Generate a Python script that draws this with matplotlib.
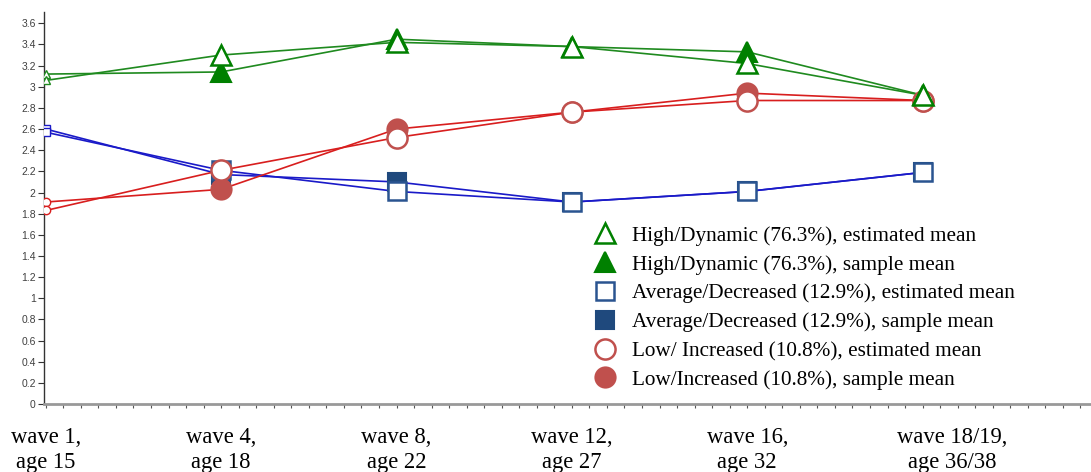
import matplotlib
matplotlib.use("Agg")
import matplotlib.pyplot as plt
from matplotlib.lines import Line2D
import numpy as np

# ---- data ----
waves = ["wave 1,\nage 15", "wave 4,\nage 18", "wave 8,\nage 22",
         "wave 12,\nage 27", "wave 16,\nage 32", "wave 18/19,\nage 36/38"]
label_offsets = [0, 0, 0, 0, 0, 0.17]

high_est = [3.06, 3.30, 3.42, 3.38, 3.22, 2.92]
high_smp = [3.12, 3.14, 3.45, 3.38, 3.33, 2.92]
avg_est = [2.57, 2.21, 2.01, 1.91, 2.01, 2.19]
avg_smp = [2.60, 2.17, 2.10, 1.91, 2.01, 2.19]
low_est = [1.83, 2.21, 2.52, 2.76, 2.87, 2.87]
low_smp = [1.91, 2.03, 2.60, 2.76, 2.94, 2.87]

legend_labels = [
    "High/Dynamic (76.3%), estimated mean",
    "High/Dynamic (76.3%), sample mean",
    "Average/Decreased (12.9%), estimated mean",
    "Average/Decreased (12.9%), sample mean",
    "Low/ Increased (10.8%), estimated mean",
    "Low/Increased (10.8%), sample mean",
]

W, H = 1091, 472
fig = plt.figure(figsize=(W / 100, H / 100), dpi=100)
ax = fig.add_axes([44 / W, 1 - 404 / H, 1 - 44 / W, (404 - 12) / H])

x = np.arange(len(waves))

GREEN_L, BLUE_L, RED_L = "#1f8a1f", "#1a1ac8", "#d81e1e"
GREEN_M, BLUE_M, BLUE_F, RED_M = "#008000", "#2a5490", "#1f497d", "#c0504d"

series = [
    # (est, smp, linecolor, marker, edge, fill for sample, ms, z)
    (avg_est, avg_smp, BLUE_L, "s", BLUE_M, BLUE_F, 13.5, 3),
    (low_est, low_smp, RED_L, "o", RED_M, RED_M, 14.5, 4),
    (high_est, high_smp, GREEN_L, "^", GREEN_M, GREEN_M, 14, 5),
]

for est, smp, lc, mk, ec, fc, ms, z in series:
    ax.plot(x, est, color=lc, lw=1.2, zorder=2)
    ax.plot(x, smp, color=lc, lw=1.2, zorder=2)
    # sample markers first (beneath), then estimated (open)
    ax.plot(x[1:], smp[1:], ls="none", marker=mk, ms=ms, mfc=fc, mec=fc,
            mew=1.5, zorder=z)
    ax.plot(x[1:], est[1:], ls="none", marker=mk, ms=ms, mfc="white", mec=ec,
            mew=1.8, zorder=z + 0.5)
    # small markers at the first wave
    ax.plot(x[:1], smp[:1], ls="none", marker=mk, ms=6, mfc="white", mec=lc,
            mew=1.0, zorder=z)
    ax.plot(x[:1], est[:1], ls="none", marker=mk, ms=6, mfc="white", mec=lc,
            mew=1.0, zorder=z)

ax.set_xlim(-0.01, 5.96)
ax.set_ylim(0, 3.707)

ax.set_yticks(np.arange(0, 3.61, 0.2))
ax.set_yticklabels([("%g" % round(v, 1)) for v in np.arange(0, 3.61, 0.2)],
                   fontsize=7.5, color="#404040", family="Liberation Sans")
ax.tick_params(axis="y", length=4, width=0.8, color="#333333", pad=2)

ax.set_xticks(np.arange(0, 5.96, 0.1))
ax.set_xticklabels([])
ax.tick_params(axis="x", length=3, width=0.8, color="#555555", direction="out")

for s in ["top", "right"]:
    ax.spines[s].set_visible(False)
ax.spines["left"].set_color("#333333")
ax.spines["left"].set_linewidth(1.0)
ax.spines["bottom"].set_color("#999999")
ax.spines["bottom"].set_linewidth(2.0)

for xi, lab, off in zip(x, waves, label_offsets):
    ax.text(xi + off, -23 / 392, lab, transform=ax.get_xaxis_transform(),
            ha="center", va="top", fontsize=16.3, family="Liberation Serif",
            linespacing=1.22)

handles = [
    Line2D([], [], ls="none", marker="^", ms=14, mfc="white", mec=GREEN_M, mew=1.8),
    Line2D([], [], ls="none", marker="^", ms=14, mfc=GREEN_M, mec=GREEN_M, mew=1.5),
    Line2D([], [], ls="none", marker="s", ms=13.5, mfc="white", mec=BLUE_M, mew=1.8),
    Line2D([], [], ls="none", marker="s", ms=13.5, mfc=BLUE_F, mec=BLUE_F, mew=1.5),
    Line2D([], [], ls="none", marker="o", ms=14.5, mfc="white", mec=RED_M, mew=1.8),
    Line2D([], [], ls="none", marker="o", ms=14.5, mfc=RED_M, mec=RED_M, mew=1.5),
]
leg = fig.legend(handles, legend_labels, loc="upper left",
                 bbox_to_anchor=(594.4 / W, 1 - 226 / H), frameon=False,
                 prop={"family": "Liberation Serif", "size": 15.3},
                 handlelength=1.0, handletextpad=0.77, labelspacing=0.42,
                 borderpad=0, borderaxespad=0)

fig.savefig("out.png", dpi=100)
